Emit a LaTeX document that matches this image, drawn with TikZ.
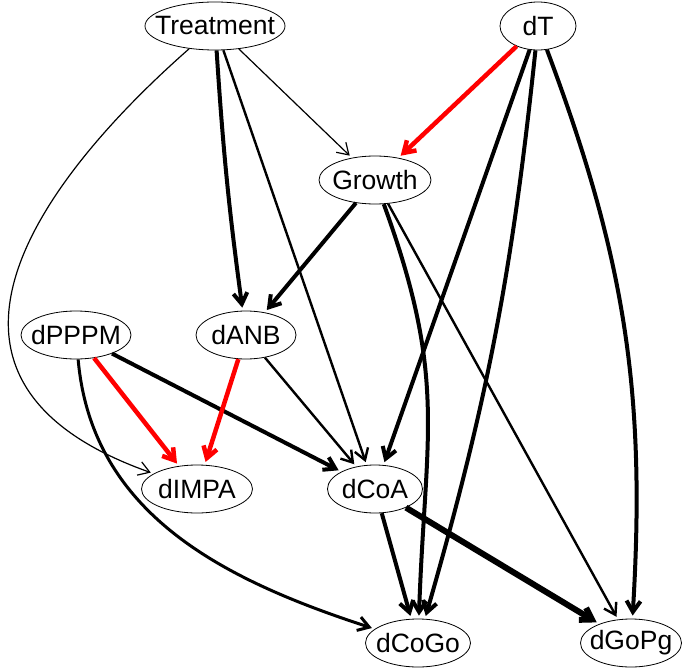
\documentclass[tikz,border=0pt]{standalone}
\usepackage{fontspec}
\setmainfont{Liberation Sans}
\usetikzlibrary{shapes.geometric,arrows.meta}

\begin{document}
\begin{tikzpicture}[x=1pt,y=-1pt,>={Straight Barb[length=11pt,width=14pt]},shorten >=3pt]
    \tikzstyle{var}=[ellipse,draw,line width=0.8pt,inner sep=0pt,minimum height=48pt,
        font=\fontsize{26.5}{30}\selectfont,
        execute at begin node={\hbox to 0pt\bgroup\hss},
        execute at end node={\hss\egroup}]
    \tikzstyle{thin edge}=[->,line width=1.2pt]
    \tikzstyle{mid edge}=[->,line width=2.4pt]
    \tikzstyle{thick edge}=[->,line width=4pt]
    \tikzstyle{heavy edge}=[->,line width=6pt]
    \tikzstyle{neg edge}=[->,line width=4.5pt,draw=red]

    \useasboundingbox (0,0) rectangle (685,671);

    % Top row
    \node[var,minimum width=140pt] (Treat) at (215,26) {Treatment};
    \node[var,minimum width=76pt] (dT) at (538,26) {dT};
    \node[var,minimum width=112pt] (Growth) at (375,180) {Growth};

    % Middle rows
    \node[var,minimum width=110pt] (PPPM) at (76,335) {dPPPM};
    \node[var,minimum width=100pt] (ANB) at (246,335) {dANB};
    \node[var,minimum width=111pt] (IMPA) at (197,489) {dIMPA};
    \node[var,minimum width=95pt] (CoA) at (375,489) {dCoA};

    % Bottom row
    \node[var,minimum width=105pt] (CoGo) at (418,643) {dCoGo};
    \node[var,minimum width=101pt] (GoPg) at (631,643) {dGoPg};

    % Paths out of Treatment and dT
    \draw[thin edge] (Treat) .. controls (40,180) and (-110,380) .. (IMPA);
    \draw[thick edge] (Treat) to[bend right=2] (ANB);
    \draw[mid edge] (Treat) -- (CoA);
    \draw[thin edge] (Treat) -- (Growth);
    \draw[neg edge] (dT) -- (Growth);
    \draw[thick edge] (dT) -- (CoA);
    \draw[thick edge] (dT) to[bend left=5] (CoGo);
    \draw[thick edge] (dT) to[bend left=12] (GoPg);

    % Paths out of Growth
    \draw[thick edge] (Growth) -- (ANB);
    \draw[thick edge] (Growth) to[out=-70,in=88,looseness=1.15] (CoGo);
    \draw[mid edge] (Growth) -- (GoPg);

    % Paths out of dPPPM and dANB
    \draw[neg edge] (PPPM) -- (IMPA);
    \draw[thick edge] (PPPM) -- (CoA);
    \draw[mid edge,line width=3pt] (PPPM) to[out=-85,in=162] (CoGo);
    \draw[neg edge] (ANB) -- (IMPA);
    \draw[mid edge] (ANB) -- (CoA);

    % Paths out of dCoA
    \draw[thick edge] (CoA) -- (CoGo);
    \draw[heavy edge] (CoA) -- (GoPg);
\end{tikzpicture}
\end{document}
